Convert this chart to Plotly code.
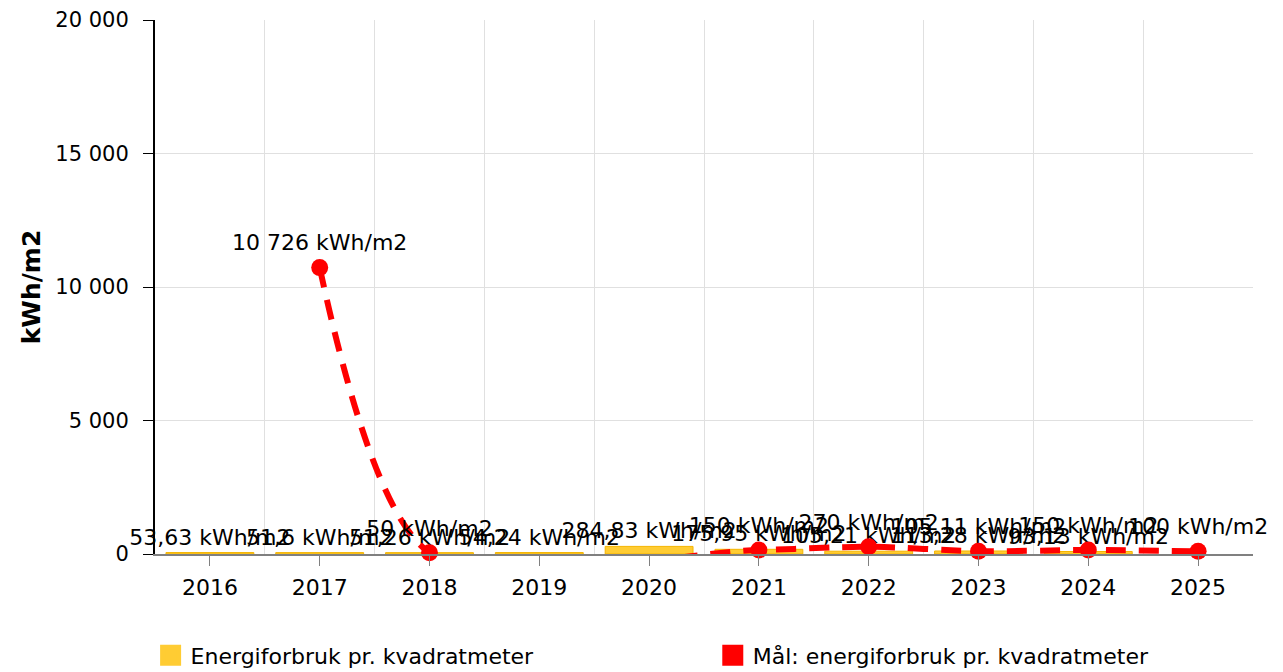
import plotly.graph_objects as go

years = [2016, 2017, 2018, 2019, 2020, 2021, 2022, 2023, 2024, 2025]
bar_years = [2016, 2017, 2018, 2019, 2020, 2021, 2022, 2023, 2024]
usage = [53.63, 51.6, 51.26, 54.24, 284.83, 175.95, 105.21, 113.28, 93.13]

target_years = [2017, 2018, 2021, 2022, 2023, 2024, 2025]
target = [10726, 50, 150, 270, 105.11, 150, 100]

y_ticks = [0, 5000, 10000, 15000, 20000]
name_usage = "Energiforbruk pr. kvadratmeter"
name_target = "Mål: energiforbruk pr. kvadratmeter"
unit = "kWh/m2"

FONT = "DejaVu Sans, Verdana, sans-serif"
YELLOW = "#FFCC33"
RED = "#FF0000"


def fmt(v):
    if float(v).is_integer():
        s = f"{int(v):,}".replace(",", " ")
    else:
        s = f"{v:g}".replace(".", ",")
    return f"{s} {unit}"


fig = go.Figure()

fig.add_trace(go.Bar(
    x=bar_years, y=usage, width=0.8,
    marker=dict(color=YELLOW, line=dict(color="#F5B400", width=1)),
    text=[fmt(v) for v in usage], textposition="outside",
    textfont=dict(family=FONT, size=22, color="#000"),
    constraintext="none", cliponaxis=False,
    showlegend=False, hoverinfo="skip",
))

fig.add_trace(go.Scatter(
    x=target_years, y=target, mode="lines+markers+text",
    line=dict(color=RED, width=6, dash="20px,13px", shape="spline", smoothing=0.8),
    marker=dict(color=RED, size=17, symbol="circle"),
    text=[fmt(v) for v in target], textposition="top center",
    textfont=dict(family=FONT, size=22, color="#000"),
    cliponaxis=False, showlegend=False, hoverinfo="skip",
))

# legend entries
fig.add_trace(go.Scatter(
    x=[None], y=[None], mode="markers", name=name_usage, legend="legend",
    marker=dict(symbol="square", size=16, color=YELLOW, line=dict(color=YELLOW, width=5)),
))
fig.add_trace(go.Scatter(
    x=[None], y=[None], mode="markers", name=name_target, legend="legend2",
    marker=dict(symbol="square", size=16, color=RED, line=dict(color=RED, width=5)),
))

legend_style = dict(
    orientation="h", yanchor="middle", y=-0.19,
    font=dict(family=FONT, size=22, color="#000"),
    itemsizing="trace", bgcolor="rgba(0,0,0,0)", xanchor="left",
)

fig.update_layout(
    width=1275, height=664,
    margin=dict(l=147, r=30, t=12, b=118, autoexpand=False),
    paper_bgcolor="white", plot_bgcolor="white",
    font=dict(family=FONT, size=20, color="#000"),
    separators=", ",
    showlegend=True,
    legend=dict(legend_style, x=-0.004),
    legend2=dict(legend_style, x=0.508),
)

fig.update_xaxes(
    range=[min(years) - 0.5, max(years) + 0.5], automargin=False,
    tickmode="array", tickvals=years, ticktext=[str(y) for y in years],
    showgrid=False, zeroline=False,
    showline=True, linecolor="#808080", linewidth=2,
    ticks="outside", ticklen=10, tickcolor="#808080", tickwidth=1,
    ticklabelstandoff=3,
    tickfont=dict(family=FONT, size=22, color="#000"),
    minor=dict(tickmode="array", tickvals=[y - 0.5 for y in years] + [max(years) + 0.5],
               showgrid=True, gridcolor="#E0E0E0", gridwidth=1, ticks=""),
)

fig.update_yaxes(
    range=[0, 20000], automargin=False,
    tickmode="array", tickvals=y_ticks, tickformat=",d",
    showgrid=True, gridcolor="#E0E0E0", gridwidth=1, zeroline=False,
    showline=True, linecolor="#000", linewidth=2,
    ticks="outside", ticklen=10, tickcolor="#000", tickwidth=1,
    ticklabelstandoff=10,
    tickfont=dict(family=FONT, size=21, color="#000"),
    title=dict(text="<b>kWh/m2</b>", font=dict(family=FONT, size=25), standoff=8),
)

fig.write_html("out.html")
